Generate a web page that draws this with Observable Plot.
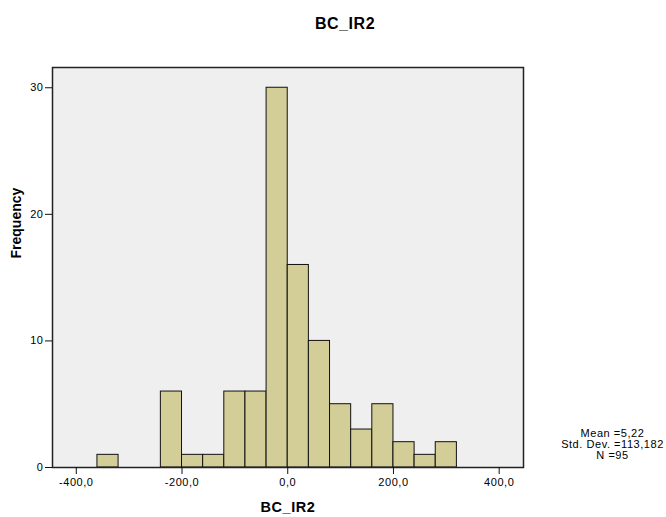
<!DOCTYPE html>
<html><head><meta charset="utf-8">
<script src="https://cdn.jsdelivr.net/npm/d3@7"></script>
<script src="https://cdn.jsdelivr.net/npm/@observablehq/plot@0.6"></script>
<style>
body{margin:0;background:#fff;font-family:Arial,"Liberation Sans",sans-serif}
#chart svg{display:block}
#chart svg text{letter-spacing:0.55px}
</style>
</head><body><div id="chart"></div>
<script>
// Histogram bins (lower edges, width 40) and frequencies
const binStarts = [-360,-320,-280,-240,-200,-160,-120,-80,-40,0,40,80,120,160,200,240,280];
const binWidth = 40;
const counts = [1,0,0,6,1,1,6,6,30,16,10,5,3,5,2,1,2];
const xTicks = [-400,-200,0,200,400];
const yTicks = [0,10,20,30];
const titleText = "BC_IR2";
const xLabel = "BC_IR2";
const yLabel = "Frequency";
const statLines = ["Mean =5,22","Std. Dev. =113,182","N =95"];

const bins = binStarts.map((s,i)=>({x0:s, x1:s+binWidth, count:counts[i]})).filter(d=>d.count>0);
const font = "Arial, 'Liberation Sans', sans-serif";

const chart = Plot.plot({
  width:666, height:517,
  marginLeft:52, marginRight:143, marginTop:67, marginBottom:50,
  style:{fontFamily:font, fontSize:"11px", background:"white", color:"#000"},
  x:{domain:[-445,446], label:null},
  y:{domain:[0,31.6], label:null},
  marks:[
    Plot.frame({fill:"#efefef", stroke:null}),
    Plot.rectY(bins,{x1:"x0", x2:"x1", y:"count", fill:"#d3ce97", stroke:"#111", strokeWidth:1}),
    Plot.frame({stroke:"#222", strokeWidth:1.5}),
    Plot.axisX({ticks:xTicks, tickFormat:d=>d.toFixed(1).replace(".",","), tickSize:7, tickPadding:4, stroke:"#111", fontSize:11, label:null}),
    Plot.axisY({ticks:yTicks, tickSize:7, tickPadding:2, stroke:"#111", fontSize:11, label:null}),
    Plot.text([titleText],{frameAnchor:"top", dx:57, dy:-39, lineAnchor:"bottom", fontWeight:"bold", fontSize:16}),
    Plot.text([xLabel],{frameAnchor:"bottom", dy:44, lineAnchor:"bottom", fontWeight:"bold", fontSize:14.5}),
    Plot.text([yLabel],{frameAnchor:"left", dx:-36, dy:-9, rotate:-90, fontWeight:"bold", fontSize:14}),
    Plot.text([statLines.join("\n")],{frameAnchor:"bottom-right", dx:89, dy:-9, textAnchor:"middle", lineAnchor:"bottom", lineHeight:1.0, fontSize:11})
  ]
});
document.getElementById("chart").appendChild(chart);
// the rotated axis title is not stretched in the reference
d3.select(chart).selectAll("text").filter(function(){return this.textContent===yLabel;}).style("letter-spacing","0px");
</script>
</body></html>
